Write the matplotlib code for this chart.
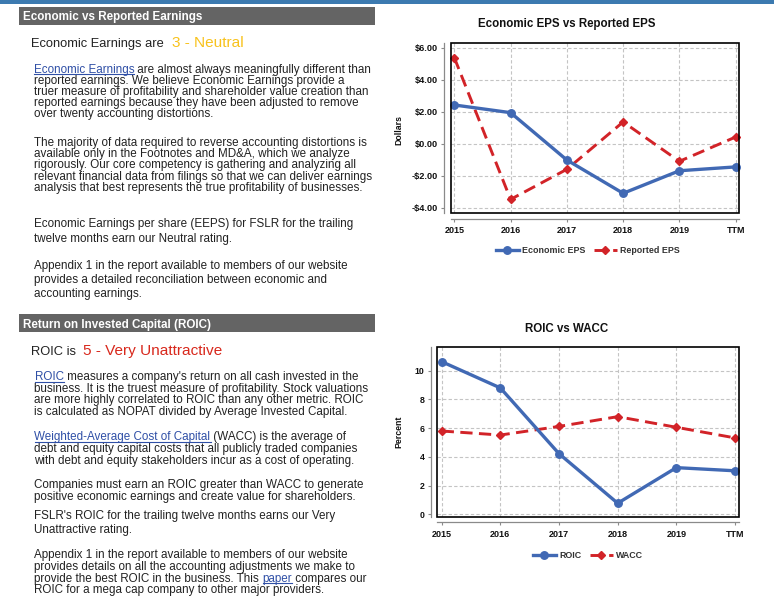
import matplotlib
matplotlib.use("Agg")
import matplotlib.pyplot as plt
from matplotlib.patches import Rectangle
from matplotlib.lines import Line2D

# ---------------- data ----------------
categories = ['2015', '2016', '2017', '2018', '2019', 'TTM']
economic_eps = [2.42, 1.94, -1.02, -3.10, -1.69, -1.45]
reported_eps = [5.38, -3.48, -1.60, 1.36, -1.10, 0.42]
roic = [10.63, 8.80, 4.22, 0.77, 3.25, 3.03]
wacc = [5.80, 5.52, 6.12, 6.80, 6.06, 5.32]
eps_ticks = [-4, -2, 0, 2, 4, 6]
eps_tick_labels = ['-$4.00', '-$2.00', '$0.00', '$2.00', '$4.00', '$6.00']
roic_ticks = [0, 2, 4, 6, 8, 10]

W, H = 774, 601
BLUE = '#4169b4'
RED = '#d22328'
LINK = '#2f4fa6'
TXT = '#222222'
FONT = 'Liberation Sans'
BODY = 8.35

plt.rcParams['font.family'] = [FONT, 'DejaVu Sans']

fig = plt.figure(figsize=(W / 100, H / 100), dpi=100)
renderer = fig.canvas.get_renderer()


def fx(x):
    return x / W


def fy(y):
    return 1 - y / H


# top blue band
fig.patches.append(Rectangle((0, fy(4)), 1, 4 / H, transform=fig.transFigure,
                             facecolor='#3c7ab0', edgecolor='none'))


def header(y0, y1, text, text_base):
    fig.patches.append(Rectangle((fx(19), fy(y1)), (375 - 19) / W, (y1 - y0) / H,
                                 transform=fig.transFigure, facecolor='#646464',
                                 edgecolor='none'))
    fig.text(fx(23), fy(text_base), text, color='white', fontsize=8.35,
             fontweight='bold', va='baseline', ha='left')


def measure(s, size):
    t = fig.text(0, 0, s + '|', fontsize=size)
    t2 = fig.text(0, 0, '|', fontsize=size)
    w = t.get_window_extent(renderer).width - t2.get_window_extent(renderer).width
    t.remove()
    t2.remove()
    return w


def rich(x, y, pieces, size=BODY):
    cur = x
    for txt, kind in pieces:
        color = LINK if kind == 'link' else TXT
        fig.text(fx(cur), fy(y), txt, fontsize=size, color=color,
                 va='baseline', ha='left')
        w = measure(txt, size)
        if kind == 'link':
            fig.add_artist(Line2D([fx(cur), fx(cur + measure(txt.rstrip(), size))],
                                  [fy(y + 1.6), fy(y + 1.6)], color=LINK, lw=0.8,
                                  transform=fig.transFigure))
        cur += w


def para(x, y0, step, lines, size=BODY):
    for i, ln in enumerate(lines):
        if isinstance(ln, str):
            ln = [(ln, 'n')]
        rich(x, y0 + i * step, ln, size)


# ---------- left column: section 1 ----------
header(7, 25, 'Economic vs Reported Earnings', 20)
fig.text(fx(31), fy(46.7), 'Economic Earnings are', fontsize=9.3, color=TXT,
         va='baseline')
fig.text(fx(172), fy(46.7), '3 - Neutral', fontsize=11.1, color='#f8c21c',
         va='baseline')

para(33.5, 72.7, 11.0, [
    [('Economic Earnings', 'link'), (' are almost always meaningfully different than', 'n')],
    'reported earnings. We believe Economic Earnings provide a',
    'truer measure of profitability and shareholder value creation than',
    'reported earnings because they have been adjusted to remove',
    'over twenty accounting distortions.',
])
para(33.5, 146, 11.17, [
    'The majority of data required to reverse accounting distortions is',
    'available only in the Footnotes and MD&A, which we analyze',
    'rigorously. Our core competency is gathering and analyzing all',
    'relevant financial data from filings so that we can deliver earnings',
    'analysis that best represents the true profitability of businesses.',
])
para(34.5, 227.3, 14.4, [
    'Economic Earnings per share (EEPS) for FSLR for the trailing',
    'twelve months earn our Neutral rating.',
])
para(34.5, 269, 13.9, [
    'Appendix 1 in the report available to members of our website',
    'provides a detailed reconciliation between economic and',
    'accounting earnings.',
])

# ---------- left column: section 2 ----------
header(314, 331.7, 'Return on Invested Capital (ROIC)', 328.3)
fig.text(fx(31), fy(355), 'ROIC is', fontsize=9.3, color=TXT, va='baseline')
fig.text(fx(83), fy(355), '5 - Very Unattractive', fontsize=11.1, color='#d8281c',
         va='baseline')

para(34.5, 380, 11.67, [
    [('ROIC', 'link'), (' measures a company\'s return on all cash invested in the', 'n')],
    'business. It is the truest measure of profitability. Stock valuations',
    'are more highly correlated to ROIC than any other metric. ROIC',
    'is calculated as NOPAT divided by Average Invested Capital.',
])
para(34.5, 440, 12.0, [
    [('Weighted-Average Cost of Capital', 'link'), (' (WACC) is the average of', 'n')],
    'debt and equity capital costs that all publicly traded companies',
    'with debt and equity stakeholders incur as a cost of operating.',
])
para(34.5, 488.3, 11.7, [
    'Companies must earn an ROIC greater than WACC to generate',
    'positive economic earnings and create value for shareholders.',
])
para(34.5, 519.3, 14.0, [
    'FSLR\'s ROIC for the trailing twelve months earns our Very',
    'Unattractive rating.',
])
para(34.5, 558.3, 11.67, [
    'Appendix 1 in the report available to members of our website',
    'provides details on all the accounting adjustments we make to',
    [('provide the best ROIC in the business. This ', 'n'), ('paper', 'link'),
     (' compares our', 'n')],
    'ROIC for a mega cap company to other major providers.',
])


# ---------- charts ----------
def make_chart(box, xlim, ylim, yticks, ylabels, s1, s2, names, title, title_y,
               ylab, ylab_y, legend_y, out_y, out_x, ytick_size):
    l, t, r, b = box
    ax = fig.add_axes([fx(l), fy(b), (r - l) / W, (b - t) / H])
    x = list(range(len(categories)))
    ax.plot(x, s1, color=BLUE, lw=2.4, marker='o', ms=5.4, label=names[0],
            zorder=4, clip_on=False)
    ax.plot(x, s2, color=RED, lw=2.1, ls=(0, (4.2, 2.2)), marker='D', ms=4.2,
            label=names[1], zorder=3, clip_on=False)
    ax.set_xlim(*xlim)
    ax.set_ylim(*ylim)
    ax.set_xticks(x)
    ax.set_xticklabels(categories)
    ax.set_yticks(yticks)
    ax.set_yticklabels(ylabels)
    ax.grid(True, color='#c4c4c4', ls=(0, (3, 2)), lw=0.8)
    ax.set_axisbelow(True)
    for s in ('top', 'right'):
        ax.spines[s].set_visible(False)
    ax.spines['left'].set_position(('outward', out_x))
    ax.spines['bottom'].set_position(('outward', out_y))
    for s in ('left', 'bottom'):
        ax.spines[s].set_color('#8a8a8a')
        ax.spines[s].set_linewidth(0.9)
    ax.add_patch(Rectangle((0, 0), 1, 1, transform=ax.transAxes, fill=False,
                           edgecolor='black', lw=1.2, clip_on=False, zorder=5))
    ax.tick_params(axis='y', length=2.0, width=0.8, color='#8a8a8a', pad=2.6,
                   labelsize=ytick_size)
    ax.tick_params(axis='x', length=2.4, width=0.8, color='#8a8a8a', pad=3.0,
                   labelsize=6.5)
    for lab in ax.get_xticklabels() + ax.get_yticklabels():
        lab.set_fontweight('bold')
        lab.set_color('#111111')
    fig.text(fx(567), fy(title_y), title, fontsize=8.3, fontweight='bold',
             ha='center', va='baseline', color='#111111')
    fig.text(fx(398.5), fy(ylab_y), ylab, fontsize=6.3, fontweight='bold',
             rotation=90, ha='center', va='center', color='#111111')
    leg = ax.legend(loc='center', bbox_to_anchor=(fx(588), fy(legend_y)),
                    bbox_transform=fig.transFigure, ncol=2, frameon=False,
                    handlelength=2.6, handletextpad=0.4, columnspacing=0.9,
                    prop={'weight': 'bold', 'size': 6.4, 'family': FONT})
    for txt in leg.get_texts():
        txt.set_color('#333333')
    return ax


make_chart((450.7, 43.3, 739.3, 213.3), (-0.064, 5.064), (-4.35, 6.275),
           eps_ticks, eps_tick_labels, economic_eps, reported_eps,
           ['Economic EPS', 'Reported EPS'], 'Economic EPS vs Reported EPS', 27.3,
           'Dollars', 130, 250.7, 3.8, 4.6, 6.6)

make_chart((437.3, 347.3, 739.3, 516.7), (-0.075, 5.073), (-0.167, 11.63),
           roic_ticks, [str(v) for v in roic_ticks], roic, wacc,
           ['ROIC', 'WACC'], 'ROIC vs WACC', 331.7,
           'Percent', 431.7, 556, 4.0, 4.7, 6.3)

fig.savefig('out.png', dpi=100)
